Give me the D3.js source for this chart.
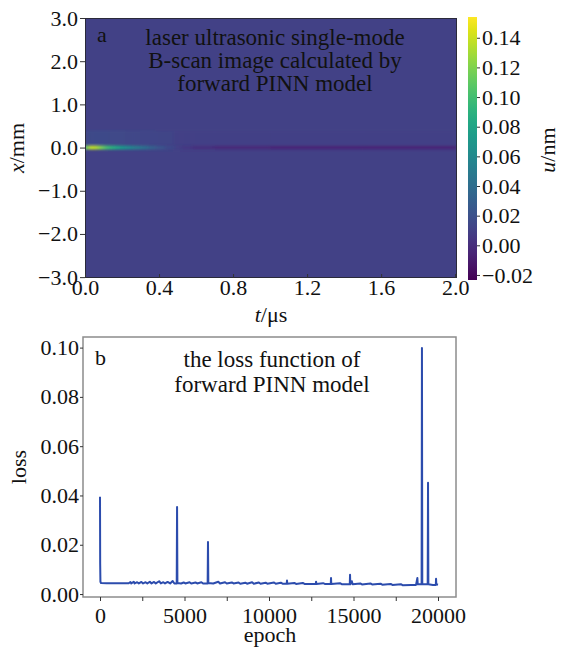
<!DOCTYPE html>
<html><head><meta charset="utf-8">
<script src="https://cdn.jsdelivr.net/npm/d3@7"></script>
<style>
body{margin:0;background:#fff;}
text{font-family:"Liberation Serif","Times New Roman",serif;fill:#111;}
</style></head>
<body>
<svg id="c" width="561" height="648"></svg>
<script>
// ---------- Panel a data ----------
const tTicks = [0.0, 0.4, 0.8, 1.2, 1.6, 2.0];
const xTicks = [3.0, 2.0, 1.0, 0.0, -1.0, -2.0, -3.0];
const cbTicks = [0.14, 0.12, 0.10, 0.08, 0.06, 0.04, 0.02, 0.00, -0.02];
const uRange = [-0.0234, 0.154];
const bgU = 0.011;
// columns along t (µs) and wave amplitude u (nm) at x = 0
const streakT = [0.00, 0.02, 0.04, 0.07, 0.10, 0.13, 0.16, 0.19, 0.22, 0.26, 0.30, 0.34, 0.38, 0.43, 0.48, 0.52, 0.58, 0.70, 1.00, 1.50];
const streakU = [0.108, 0.140, 0.134, 0.118, 0.100, 0.090, 0.080, 0.070, 0.060, 0.050, 0.040, 0.031, 0.023, 0.016, 0.011, 0.006, 0.001, -0.003, -0.004, -0.004];
const glowU   = [0.014, 0.016, 0.016, 0.016, 0.016, 0.015, 0.015, 0.015, 0.014, 0.014, 0.013, 0.013, 0.012, 0.012, 0.011, 0.011, 0.011, 0.011, 0.011, 0.011];
const streakRowX = [-0.045, 0.045];
const glowRowX = [0.08, 0.40];

// ---------- Panel b data ----------
const epochTicks = [0, 5000, 10000, 15000, 20000];
const lossTicks = [0.00, 0.02, 0.04, 0.06, 0.08, 0.10];
const epochs = [0,10,25,60,400,1000,1700,1800,1850,2000,2050,2200,2300,2450,2550,2700,2800,2950,3050,3200,3300,3500,3600,3750,3850,4000,4150,4300,4400,4540,4560,4580,4800,4950,5050,5300,5400,5650,5750,6000,6100,6370,6390,6410,6700,7000,7100,7400,7500,7800,7900,8200,8300,8600,8700,9000,9100,9400,9500,9800,9900,10300,10400,10700,10800,11050,11065,11080,11500,11600,12000,12100,12770,12785,12800,13200,13300,13655,13670,13685,14200,14300,14780,14795,14810,14900,14950,15400,15500,16000,16100,16600,16700,17200,17300,17800,17900,18400,18700,18780,18800,19030,19050,19070,19390,19410,19430,19700,19870,19885,19900,20000];
const loss = [0.0395,0.0125,0.0050,0.0045,0.0044,0.0044,0.0044,0.0049,0.0043,0.0050,0.0043,0.0048,0.0043,0.0049,0.0043,0.0048,0.0043,0.0050,0.0043,0.0049,0.0043,0.0052,0.0043,0.0048,0.0043,0.0049,0.0043,0.0053,0.0043,0.0043,0.0353,0.0045,0.0043,0.0047,0.0043,0.0048,0.0043,0.0047,0.0043,0.0048,0.0043,0.0043,0.0211,0.0045,0.0043,0.0050,0.0043,0.0048,0.0043,0.0047,0.0043,0.0047,0.0042,0.0046,0.0042,0.0048,0.0042,0.0047,0.0042,0.0046,0.0042,0.0047,0.0042,0.0046,0.0042,0.0042,0.0055,0.0042,0.0045,0.0041,0.0045,0.0041,0.0041,0.0050,0.0041,0.0044,0.0041,0.0041,0.0065,0.0041,0.0044,0.0040,0.0040,0.0078,0.0040,0.0052,0.0040,0.0043,0.0039,0.0043,0.0039,0.0042,0.0038,0.0041,0.0037,0.0040,0.0036,0.0037,0.0037,0.0065,0.0040,0.0040,0.0998,0.0040,0.0040,0.0452,0.0040,0.0037,0.0037,0.0062,0.0040,0.0038];

const svg = d3.select("#c");
const FS = 22;
const FONT = '"Liberation Serif","Times New Roman",serif';

// ================= Panel a =================
const ax = d3.scaleLinear([0, 2.01], [85, 457]);
const ay = d3.scaleLinear([-3.02, 3.0], [278, 18]);
const color = d3.scaleSequential(d3.interpolateViridis).domain(uRange);

const defs = svg.append("defs");
defs.append("clipPath").attr("id", "clipA").append("rect")
  .attr("x", ax(0)).attr("y", ay(3)).attr("width", ax(2.01) - ax(0)).attr("height", ay(-3.02) - ay(3));
const f = defs.append("filter").attr("id", "blurA").attr("x", "-10%").attr("y", "-200%").attr("width", "120%").attr("height", "500%");
f.append("feGaussianBlur").attr("stdDeviation", "2.2 0.8");

const ga = svg.append("g").attr("clip-path", "url(#clipA)");
ga.append("rect").attr("x", ax(0)).attr("y", ay(3)).attr("width", ax(2.01) - ax(0)).attr("height", ay(-3.02) - ay(3))
  .attr("fill", color(bgU));
const gs = ga.append("g").attr("filter", "url(#blurA)");
const tEnd = i => (i + 1 < streakT.length ? streakT[i + 1] : 2.01);
gs.selectAll("rect.glow").data(glowU).join("rect").attr("class", "glow")
  .attr("x", (d, i) => ax(streakT[i]) - (i === 0 ? 5 : 0))
  .attr("width", (d, i) => ax(tEnd(i)) - ax(streakT[i]) + (i === 0 ? 5 : 0) + 0.5)
  .attr("y", ay(glowRowX[1])).attr("height", ay(glowRowX[0]) - ay(glowRowX[1]))
  .attr("fill", d => color(d));
gs.selectAll("rect.streak").data(streakU).join("rect").attr("class", "streak")
  .attr("x", (d, i) => ax(streakT[i]) - (i === 0 ? 5 : 0))
  .attr("width", (d, i) => ax(tEnd(i)) - ax(streakT[i]) + (i === 0 ? 5 : 0) + 0.5)
  .attr("y", ay(streakRowX[1])).attr("height", ay(streakRowX[0]) - ay(streakRowX[1]))
  .attr("fill", d => color(d));

ga.append("rect").attr("x", ax(0)).attr("y", ay(3)).attr("width", ax(2.01) - ax(0)).attr("height", ay(-3.02) - ay(3))
  .attr("fill", "none").attr("stroke", "#2a2a3a").attr("stroke-width", 2);

const fmt1 = d3.format(".1f"), fmt2 = d3.format(".2f");
const styleAxis = g => {
  g.attr("font-family", FONT);
  g.select(".domain").remove();
  g.selectAll("text").style("font-size", FS + "px").style("font-family", FONT).attr("fill", "#111");
  g.selectAll("line").attr("stroke", "#333");
};
const axA_b = svg.append("g").attr("transform", `translate(0,${ay(-3.02)})`)
  .call(d3.axisBottom(ax).tickValues(tTicks).tickFormat(fmt1).tickSize(-4).tickPadding(1));
const axA_l = svg.append("g").attr("transform", `translate(${ax(0)},0)`)
  .call(d3.axisLeft(ay).tickValues(xTicks).tickFormat(fmt1).tickSize(5).tickPadding(2));
[axA_b, axA_l].forEach(styleAxis);

// colorbar
const cy = d3.scaleLinear(uRange, [280, 17]);
const grad = defs.append("linearGradient").attr("id", "vir").attr("x1", 0).attr("y1", 1).attr("x2", 0).attr("y2", 0);
d3.range(0, 1.0001, 0.05).forEach(p => grad.append("stop").attr("offset", p).attr("stop-color", d3.interpolateViridis(p)));
svg.append("rect").attr("x", 468).attr("y", cy(uRange[1])).attr("width", 9).attr("height", cy(uRange[0]) - cy(uRange[1]))
  .attr("fill", "url(#vir)");
const axC = svg.append("g").attr("transform", "translate(477,0)")
  .call(d3.axisRight(cy).tickValues(cbTicks).tickFormat(fmt2).tickSize(3).tickPadding(2));
styleAxis(axC);

// labels
const lab = (x, y, opts = {}) => {
  const t = svg.append("text").attr("x", x).attr("y", y).style("font-size", (opts.fs || FS) + "px")
    .style("font-family", FONT)
    .attr("text-anchor", opts.anchor || "middle").attr("fill", opts.fill || "#111");
  if (opts.rot) t.attr("transform", `rotate(-90,${x},${y})`);
  return t;
};
let t1 = lab(24, 148, {rot: true});
t1.append("tspan").attr("font-style", "italic").text("x");
t1.append("tspan").text("/mm");
let t2 = lab(555, 150, {rot: true});
t2.append("tspan").attr("font-style", "italic").text("u");
t2.append("tspan").text("/nm");
let t3 = lab(271, 322);
t3.append("tspan").attr("font-style", "italic").text("t");
t3.append("tspan").text("/μs");
lab(97, 42, {anchor: "start", fill: "#fff"}).text("a");
["laser ultrasonic single-mode", "B-scan image calculated by", "forward PINN model"].forEach((s, i) =>
  lab(275, 45 + i * 23, {fill: "#fff", fs: 23}).text(s));

// ================= Panel b =================
const bx = d3.scaleLinear([-1006, 21065], [83, 456]);
const by = d3.scaleLinear([-0.0012, 0.1043], [597, 337]);
svg.append("rect").attr("x", bx.range()[0]).attr("y", by.range()[1]).attr("width", bx.range()[1] - bx.range()[0])
  .attr("height", by.range()[0] - by.range()[1]).attr("fill", "none").attr("stroke", "#8c8c8c").attr("stroke-width", 1.5);

const line = d3.line().x((d, i) => bx(epochs[i])).y(d => by(d));
svg.append("path").datum(loss).attr("d", line).attr("fill", "none")
  .attr("stroke", "#2c4cad").attr("stroke-width", 2).attr("stroke-linejoin", "round");

const axB_b = svg.append("g").attr("transform", `translate(0,597)`)
  .call(d3.axisBottom(bx).tickValues(epochTicks).tickFormat(d3.format("d")).tickSize(4).tickPadding(6));
const minor = svg.append("g").attr("transform", `translate(0,597)`)
  .call(d3.axisBottom(bx).tickValues([2500, 7500, 12500, 17500]).tickFormat("").tickSize(4));
const axB_l = svg.append("g").attr("transform", `translate(83,0)`)
  .call(d3.axisLeft(by).tickValues(lossTicks).tickFormat(fmt2).tickSize(3).tickPadding(1));
[axB_b, minor, axB_l].forEach(styleAxis);

lab(26, 467, {rot: true}).text("loss");
lab(270, 642).text("epoch");
lab(95, 365, {anchor: "start"}).text("b");
["the loss function of", "forward PINN model"].forEach((s, i) =>
  lab(272, 367 + i * 25, {fs: 23}).text(s));
</script>
</body></html>
